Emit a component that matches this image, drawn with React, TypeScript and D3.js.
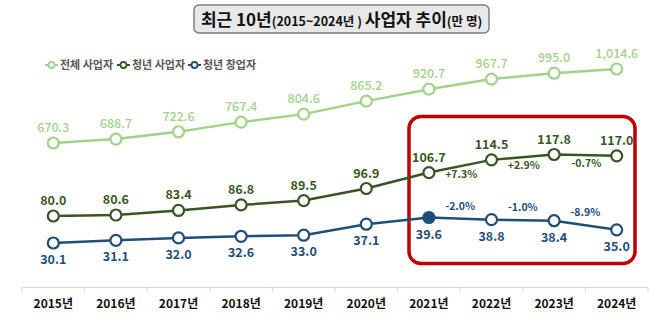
import React from "react";
import * as d3 from "d3";

const years = ["2015년","2016년","2017년","2018년","2019년","2020년","2021년","2022년","2023년","2024년"];
const totalVals = [670.3, 688.7, 722.6, 767.4, 804.6, 865.2, 920.7, 967.7, 995.0, 1014.6];
const totalLabels = ["670.3","688.7","722.6","767.4","804.6","865.2","920.7","967.7","995.0","1,014.6"];
const youthVals = [80.0, 80.6, 83.4, 86.8, 89.5, 96.9, 106.7, 114.5, 117.8, 117.0];
const startupVals = [30.1, 31.1, 32.0, 32.6, 33.0, 37.1, 39.6, 38.8, 38.4, 35.0];
const youthPct = ["", "", "", "", "", "", "+7.3%", "+2.9%", "-0.7%"];
const startupPct = ["", "", "", "", "", "", "-2.0%", "-1.0%", "-8.9%"];
const legendNames = ["전체 사업자", "청년 사업자", "청년 창업자"];

const C_TOTAL = "#a2d28a";
const C_YOUTH = "#375623";
const C_START = "#1f4e79";
const FONT = "'Noto Sans CJK KR', 'Noto Sans', sans-serif";

export default function App() {
  const W = 670, H = 324;
  const x = d3.scaleBand().domain(years).range([22, 648]);
  const cx = (i: number) => (x(years[i]) as number) + x.bandwidth() / 2;
  const yTotal = d3.scaleLinear().domain([670.3, 1014.6]).range([143, 69]);
  const yYouth = d3.scaleLinear().domain([80, 117.8]).range([216, 154.5]);
  const yStart = d3.scaleLinear().domain([30.1, 39.6]).range([243, 217.5]);

  const series = [
    { vals: totalVals, y: yTotal, color: C_TOTAL, labels: totalLabels, above: true, w: 2.5 },
    { vals: youthVals, y: yYouth, color: C_YOUTH, labels: youthVals.map((v) => v.toFixed(1)), above: true, w: 2.5 },
    { vals: startupVals, y: yStart, color: C_START, labels: startupVals.map((v) => v.toFixed(1)), above: false, w: 2.5 },
  ];

  return (
    <svg width={W} height={H} style={{ position: "absolute", left: 0, top: 0, background: "#fff" }} fontFamily={FONT}>
      {/* Title */}
      <rect x={194} y={5} width={295} height={28} rx={5} fill="#e8e8e8" stroke="#7f7f7f" strokeWidth={1.5} />
      <text x={341.5} y={25.5} textAnchor="middle" fontWeight="bold" fill="#111">
        <tspan fontSize={17}>최근 10년</tspan>
        <tspan fontSize={12.5}>(2015~2024년 ) </tspan>
        <tspan fontSize={17}>사업자 추이</tspan>
        <tspan fontSize={12.5}>(만 명)</tspan>
      </text>

      {/* Legend */}
      {[C_TOTAL, C_YOUTH, C_START].map((c, i) => {
        const lx = [45, 117, 188][i];
        return (
          <g key={i}>
            <line x1={lx} x2={lx + 13} y1={65} y2={65} stroke={c} strokeWidth={2} />
            <circle cx={lx + 6.5} cy={65} r={3} fill="#fff" stroke={c} strokeWidth={1.8} />
            <text x={lx + 15} y={69} fontSize={11} fontWeight="bold" fill="#595959">{legendNames[i]}</text>
          </g>
        );
      })}

      {/* Axis */}
      <line x1={22} x2={648} y1={287.5} y2={287.5} stroke="#d9d9d9" strokeWidth={1} />
      {d3.range(years.length + 1).map((i) => (
        <line key={i} x1={22 + i * x.bandwidth()} x2={22 + i * x.bandwidth()} y1={287.5} y2={292} stroke="#d9d9d9" strokeWidth={1} />
      ))}
      {years.map((yr, i) => (
        <text key={yr} x={cx(i)} y={307.5} textAnchor="middle" fontSize={12} fontWeight="bold" fill="#111">{yr}</text>
      ))}

      {/* Highlight box */}
      <rect x={409} y={116.5} width={226} height={147} rx={12} fill="none" stroke="#c00000" strokeWidth={3.5} />

      {/* Lines */}
      {series.map((s, si) => {
        const line = d3.line<number>().x((_, i) => cx(i)).y((v) => s.y(v));
        return (
          <g key={si}>
            <path d={line(s.vals) || ""} fill="none" stroke={s.color} strokeWidth={s.w} />
            {s.vals.map((v, i) => (
              <circle key={i} cx={cx(i)} cy={s.y(v)} r={5.5}
                fill={si === 2 && i === 6 ? C_START : "#fff"} stroke={s.color} strokeWidth={2.2} />
            ))}
            {s.vals.map((v, i) => (
              <text key={"l" + i} x={cx(i)} y={s.above ? s.y(v) - 11 : s.y(v) + 21}
                textAnchor="middle" fontSize={12.5} fontWeight={si === 0 ? 500 : "bold"} fill={s.color}>
                {s.labels[i]}
              </text>
            ))}
          </g>
        );
      })}

      {/* Percent changes */}
      {youthPct.map((p, i) => p ? (
        <text key={"yp" + i} x={(cx(i) + cx(i + 1)) / 2 + 1} y={(yYouth(youthVals[i]) + yYouth(youthVals[i + 1])) / 2 + 12}
          textAnchor="middle" fontSize={10.5} fontWeight="bold" fill={C_YOUTH}>{p}</text>
      ) : null)}
      {startupPct.map((p, i) => p ? (
        <text key={"sp" + i} x={(cx(i) + cx(i + 1)) / 2} y={(yStart(startupVals[i]) + yStart(startupVals[i + 1])) / 2 - 9}
          textAnchor="middle" fontSize={10.5} fontWeight="bold" fill={C_START}>{p}</text>
      ) : null)}
    </svg>
  );
}
